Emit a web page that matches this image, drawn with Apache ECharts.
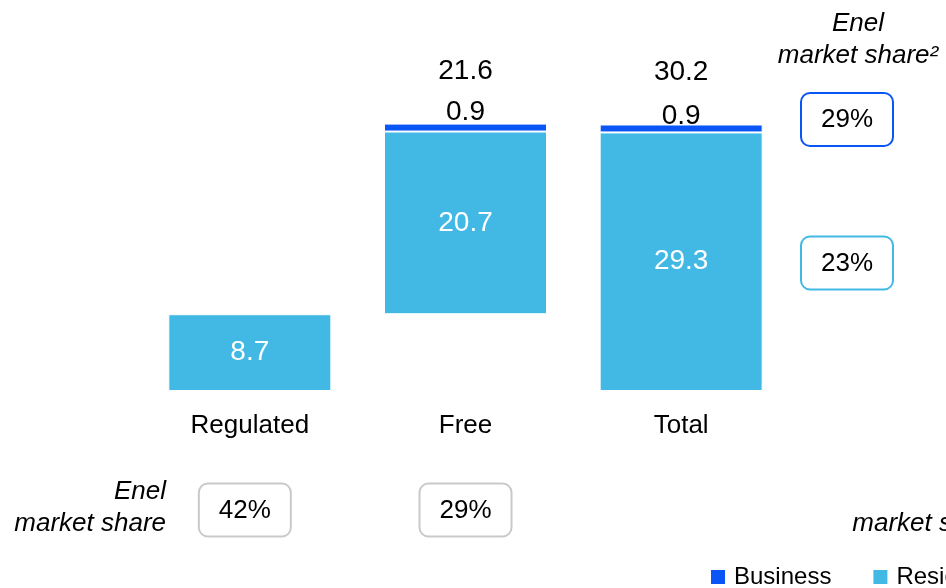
<!DOCTYPE html>
<html>
<head>
<meta charset="utf-8">
<script src="https://cdn.jsdelivr.net/npm/echarts@6/dist/echarts.min.js"></script>
<style>
  html, body { margin: 0; padding: 0; background: #fff; }
  #chart { width: 946px; height: 588px; }
</style>
</head>
<body>
<div id="chart"></div>
<script>
// data
const categories = ['Regulated', 'Free', 'Total'];
const baseValues = [0, 8.7, 0];          // invisible offset for the waterfall step
const residential = [8.7, 20.7, 29.3];
const business = ['-', 0.9, 0.9];
const totals = ['-', 21.6, 30.2];
const shareByCategory = ['42%', '29%'];  // Enel market share under Regulated / Free
const shareBySegment = ['29%', '23%'];   // Enel market share for Business / Residential

const BLUE = '#0a55f5';
const CYAN = '#42b9e5';
const GREY = '#c9c9c9';
const FONT = 'Arial, "Liberation Sans", sans-serif';

const businessLabelOffset = [0, 3, 6];

let option = {
    animation: false,
    grid: { left: 142, right: 157, top: 38, bottom: 197 },
    xAxis: {
        type: 'category',
        data: categories,
        axisLine: { show: false },
        axisTick: { show: false },
        axisLabel: { margin: 22, fontSize: 26, color: '#000', fontFamily: FONT }
    },
    yAxis: {
        type: 'value',
        min: 0,
        max: 40,
        show: false,
        splitLine: { show: false }
    },
    legend: {
        data: ['Business', 'Residential'],
        left: 704,
        top: 560,
        width: 400,
        icon: 'rect',
        itemWidth: 16,
        itemHeight: 16,
        itemGap: 40,
        textStyle: { fontSize: 24, color: '#000', fontFamily: FONT, padding: [0, 0, 0, 3] }
    },
    series: [
        {
            name: 'base',
            type: 'bar',
            stack: 'all',
            barWidth: 163,
            itemStyle: { color: 'transparent' },
            data: baseValues,
            silent: true
        },
        {
            name: 'Residential',
            type: 'bar',
            stack: 'all',
            barWidth: 163,
            itemStyle: { color: CYAN, borderColor: '#fff', borderWidth: 1 },
            label: {
                show: true,
                position: 'inside',
                color: '#fff',
                fontSize: 28,
                fontFamily: FONT
            },
            data: residential
        },
        {
            name: 'Business',
            type: 'bar',
            stack: 'all',
            barWidth: 163,
            itemStyle: { color: BLUE, borderColor: '#fff', borderWidth: 1 },
            label: {
                show: true,
                position: 'top',
                distance: 0,
                color: '#000',
                fontSize: 28,
                fontFamily: FONT
            },
            data: business.map((v, i) => ({ value: v, label: { offset: [0, businessLabelOffset[i]] } }))
        },
        {
            name: 'totalLabel',
            type: 'bar',
            stack: 'all',
            barWidth: 163,
            itemStyle: { color: 'transparent' },
            label: {
                show: true,
                position: 'top',
                distance: 38,
                color: '#000',
                fontSize: 28,
                fontFamily: FONT,
                formatter: p => totals[p.dataIndex]
            },
            data: totals.map(v => (v === '-' ? '-' : 0)),
            silent: true
        }
    ]
};

const chart = echarts.init(document.getElementById('chart'));
chart.setOption(option);

function shareBox(cx, cy, text, color) {
    return {
        type: 'group',
        x: cx - 46,
        y: cy - 26.5,
        children: [
            {
                type: 'rect',
                shape: { x: 0, y: 0, width: 92, height: 53, r: 9 },
                style: { fill: '#fff', stroke: color, lineWidth: 2 }
            },
            {
                type: 'text',
                x: 46,
                y: 27,
                style: { text: text, font: '26px ' + FONT, fill: '#000', align: 'center', verticalAlign: 'middle' }
            }
        ]
    };
}

const graphics = [];
// bottom row, under the bars (first box sits a little left of its bar)
const bottomNudge = [-5, 0];
shareByCategory.forEach((s, i) => {
    const cx = chart.convertToPixel({ xAxisIndex: 0 }, categories[i]);
    graphics.push(shareBox(cx + bottomNudge[i], 510, s, GREY));
});
// right column
graphics.push(shareBox(847, 119.5, shareBySegment[0], BLUE));
graphics.push(shareBox(847, 263, shareBySegment[1], CYAN));

graphics.push({
    type: 'text', x: 166, y: 476,
    style: { text: 'Enel\nmarket share', font: 'italic 26px ' + FONT, lineHeight: 32, fill: '#000', align: 'right' }
});
graphics.push({
    type: 'text', x: 858, y: 8,
    style: { text: 'Enel\nmarket share\u00b2', font: 'italic 26px ' + FONT, lineHeight: 32, fill: '#000', align: 'center' }
});
graphics.push({
    type: 'text', x: 1004, y: 476,
    style: { text: 'Enel\nmarket share', font: 'italic 26px ' + FONT, lineHeight: 32, fill: '#000', align: 'right' }
});

chart.setOption({ graphic: graphics });
</script>
</body>
</html>
